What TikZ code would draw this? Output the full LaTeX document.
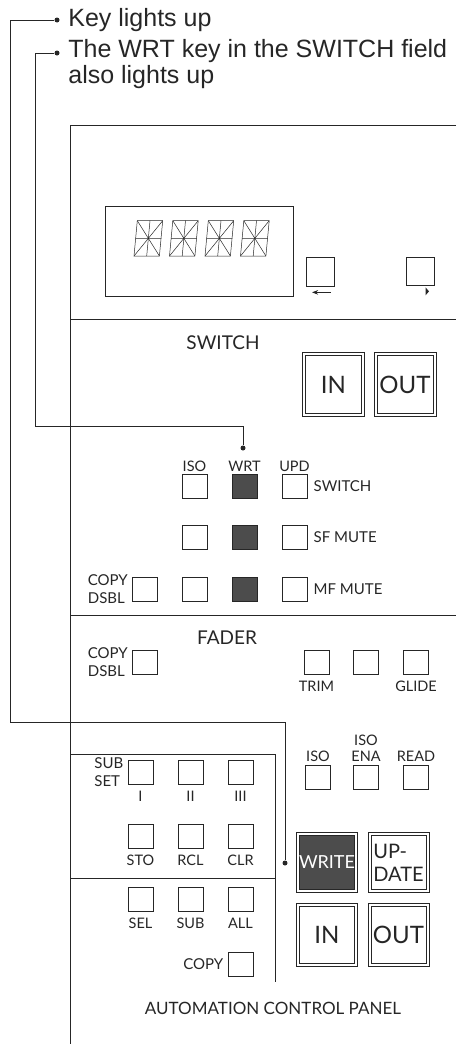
\documentclass[tikz,border=0pt]{standalone}
\usepackage{fontspec}
\setmainfont{Liberation Sans}
\newfontfamily\panelfont{Lato}
\usetikzlibrary{arrows.meta,positioning}

\begin{document}
\begin{tikzpicture}[
    x=1pt, y=-1pt,
    color=black!85, line width=0.7pt,
    >=Stealth,
    key/.style={draw, minimum width=25pt, minimum height=24pt, inner sep=0pt},
    litkey/.style={key, fill=black!70},
    bigkey/.style={draw, line width=0.6pt, minimum width=61pt, minimum height=60pt, inner sep=0pt,
      font=\panelfont\fontsize{24}{24}\selectfont,
      path picture={\draw[line width=0.6pt] ([shift={(2.8pt,2.8pt)}]path picture bounding box.south west) rectangle ([shift={(-2.8pt,-2.8pt)}]path picture bounding box.north east);}},
    litbigkey/.style={bigkey, text=white,
      path picture={\draw[line width=0.6pt, fill=black!70] ([shift={(2.8pt,2.8pt)}]path picture bounding box.south west) rectangle ([shift={(-2.8pt,-2.8pt)}]path picture bounding box.north east);}},
    lbl/.style={font=\panelfont\fontsize{14.5}{16}\selectfont, inner sep=0pt},
    rowlbl/.style={font=\panelfont\fontsize{15}{18}\selectfont, inner sep=0pt},
    head/.style={font=\panelfont\fontsize{19}{19}\selectfont, inner sep=0pt},
    dot/.style={circle, fill, inner sep=0pt, minimum size=5pt},
    note/.style={font=\fontsize{25}{26}\selectfont, inner sep=0pt, anchor=base west, align=left}
]

\useasboundingbox (0,0) rectangle (456,1044);

\node[note] (keylit) at (68,27) {Key lights up};
\node[note] (wrtlit) at (68,83) {The WRT key in the SWITCH field\\also lights up};
\node[dot] (keydot) at (57,20) {};
\node[dot] (wrtdot) at (57,53) {};

\draw (456,125) -- (70,125) -- (70,1044);
\draw (70,319) -- (456,319);
\draw (70,615) -- (456,615);
\draw (70,754) -- (275,754) -- (275,982);
\draw (70,878) -- (275,878);

\node[draw, minimum width=188pt, minimum height=90pt] (disp) at (199,251) {};
\foreach \i in {0,1,2,3} {
  \begin{scope}[shift={(134+35.5*\i,256)}, line width=0.5pt]
    \draw (0,0) -- (25.4,0) -- (28.7,-35.3) -- (3.3,-35.3) -- cycle;
    \draw (12.7,0) -- (16,-35.3) (1.65,-17.65) -- (27.05,-17.65);
    \draw (0,0) -- (28.7,-35.3) (25.4,0) -- (3.3,-35.3);
  \end{scope}
}
\node[key, minimum width=28pt, minimum height=29pt] (lkey) at (320,271.5) {};
\node[key, minimum width=28pt, minimum height=28pt] (rkey) at (420.5,271) {};
\draw[<-] ([xshift=-8pt, yshift=-6pt]lkey.south) -- ++(19,0);
\fill ([xshift=5pt, yshift=-2pt]rkey.south) -- ++(0,8) -- ++(3.5,-4) -- cycle;

\node[head] (swhead) at (223,343) {SWITCH};
\node[bigkey, minimum width=62pt, minimum height=64pt] (swin) at (333.5,384.5) {IN};
\node[bigkey, minimum width=62pt, minimum height=64pt] (swout) at (405,384.5) {OUT};

\node[key] (iso1) at (194.5,486.5) {};
\node[litkey] (wrt1) at (244.5,486.5) {};
\node[key] (upd1) at (294.5,486.5) {};
\node[lbl, above=2.5pt of iso1] (isol) {ISO};
\node[lbl, above=2.5pt of wrt1] (wrtl) {WRT};
\node[lbl, above=2.5pt of upd1] (updl) {UPD};
\node[rowlbl, right=6pt of upd1] (swl) {SWITCH};
\node[dot] (wrtsw) at (243,448) {};

\node[key] (iso2) at (194.5,537.5) {};
\node[litkey] (wrt2) at (244.5,537.5) {};
\node[key] (upd2) at (294.5,537.5) {};
\node[rowlbl, right=6pt of upd2] (sfl) {SF MUTE};

\node[key] (cpy1) at (145,589) {};
\node[key] (iso3) at (194.5,589) {};
\node[litkey] (wrt3) at (244.5,589) {};
\node[key] (upd3) at (294.5,589) {};
\node[rowlbl, right=6pt of upd3] (mfl) {MF MUTE};
\node[rowlbl, align=left, left=4pt of cpy1] (cpy1l) {COPY\\DSBL};

\node[head] (fdhead) at (227,638) {FADER};
\node[key] (cpy2) at (145,662) {};
\node[rowlbl, align=left, left=4pt of cpy2] (cpy2l) {COPY\\DSBL};
\node[key] (trim) at (316.5,662.5) {};
\node[key] (fmid) at (366,662.5) {};
\node[key] (glide) at (416,662.5) {};
\node[lbl, below=5.5pt of trim] (triml) {TRIM};
\node[lbl, below=5.5pt of glide] (glidel) {GLIDE};

\node[key] (isor) at (318,777.5) {};
\node[key] (ena) at (366,777.5) {};
\node[key] (read) at (416,777.5) {};
\node[lbl, above=3pt of isor] (isorl) {ISO};
\node[lbl, align=center, above=3pt of ena] (enal) {ISO\\ENA};
\node[lbl, above=3pt of read] (readl) {READ};

\node[key] (s1) at (140.5,772.5) {};
\node[key] (s2) at (190.5,772.5) {};
\node[key] (s3) at (240.5,772.5) {};
\node[lbl, below=6pt of s1] {I};
\node[lbl, below=6pt of s2] {II};
\node[lbl, below=6pt of s3] {III};
\node[rowlbl, align=left, left=4pt of s1] (subl) {SUB\\SET};

\node[key] (sto) at (140.5,836.5) {};
\node[key] (rcl) at (190.5,836.5) {};
\node[key] (clr) at (240.5,836.5) {};
\node[lbl, below=6pt of sto] {STO};
\node[lbl, below=6pt of rcl] {RCL};
\node[lbl, below=6pt of clr] {CLR};

\node[key] (sel) at (140.5,899.5) {};
\node[key] (sub) at (190.5,899.5) {};
\node[key] (all) at (240.5,899.5) {};
\node[lbl, below=6pt of sel] {SEL};
\node[lbl, below=6pt of sub] {SUB};
\node[lbl, below=6pt of all] {ALL};

\node[key] (cpy3) at (240.5,964) {};
\node[rowlbl, left=4pt of cpy3] (cpy3l) {COPY};

\node[litbigkey, font=\panelfont\fontsize{18}{18}\selectfont] (write) at (327,862.5) {WRITE};
\node[bigkey, align=left, font=\panelfont\fontsize{20}{23}\selectfont] (update) at (398.5,862.5) {UP-\\DATE};
\node[bigkey, minimum height=63pt] (ain) at (327,935) {IN};
\node[bigkey, minimum height=63pt] (aout) at (398.5,935) {OUT};
\node[dot] (writedot) at (285,863) {};

\node[rowlbl, font=\panelfont\fontsize{17}{17}\selectfont] (acp) at (273,1008) {AUTOMATION CONTROL PANEL};

\draw (keydot) -- ++(-47,0) -- ++(0,702) -| (writedot);

\draw (wrtdot) -- ++(-22,0) -- ++(0,373) -| (wrtsw);

\end{tikzpicture}
\end{document}
